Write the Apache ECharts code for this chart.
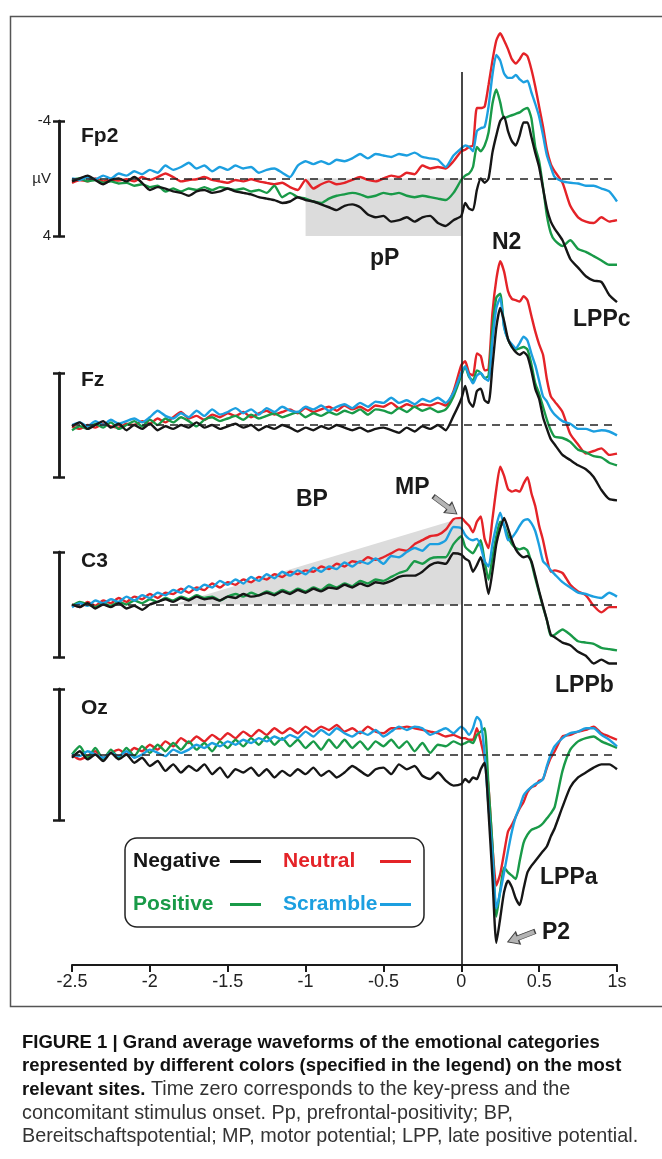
<!DOCTYPE html>
<html><head><meta charset="utf-8">
<script src="https://cdn.jsdelivr.net/npm/echarts@6/dist/echarts.min.js"></script>
<style>html,body{margin:0;padding:0;background:#fff}#c{width:662px;height:1159px}</style>
</head><body><div id="c"></div>
<script>
// ---- time axis (s) ----
const times = [-2.5,-2.45,-2.4,-2.35,-2.3,-2.25,-2.2,-2.15,-2.1,-2.05,
 -2.0,-1.95,-1.9,-1.85,-1.8,-1.75,-1.7,-1.65,-1.6,-1.55,
 -1.5,-1.45,-1.4,-1.35,-1.3,-1.25,-1.2,-1.15,-1.1,-1.05,
 -1.0,-0.95,-0.9,-0.85,-0.8,-0.75,-0.7,-0.65,-0.6,-0.55,
 -0.5,-0.45,-0.4,-0.35,-0.3,-0.25,-0.2,-0.15,-0.1,-0.05,
 0,0.025,0.05,0.075,0.1,0.125,0.15,0.175,0.2,0.225,
 0.25,0.275,0.3,0.325,0.35,0.375,0.4,0.425,0.45,0.475,
 0.5,0.525,0.55,0.575,0.6,
 0.65,0.7,0.75,0.8,0.85,0.9,0.95,1.0];
const categories = ['Negative','Neutral','Positive','Scramble'];
const sites = ['Fp2','Fz','C3','Oz'];

// ---- Fp2 (µV, negative up) ----
const fp2Scramble = [0.0,0.1,-0.1,0.05,-0.2,0.0,-0.35,-0.2,-0.5,-0.3, -0.6,-0.4,-0.9,-0.6,-0.8,-1.1,-0.7,-0.9,-0.5,-0.8, -0.6,-0.9,-0.7,-0.8,-0.4,-0.6,-0.7,-0.4,-0.1,-0.9, -1.2,-1.0,-1.2,-1.0,-1.3,-1.2,-1.4,-1.7,-1.4,-1.7, -1.6,-1.5,-1.7,-1.6,-1.8,-1.5,-1.4,-1.3,-0.8,-1.6,
 -2.1,-2.3,-2.2,-1.9,-3.3,-3.5,-3.6,-5.0,-7.2,-8.6, -8.2,-7.3,-7.0,-7.0,-7.2,-6.9,-6.7,-6.8,-6.0,-5.2, -4.3,-3.0,-1.6,-0.8,-0.1, 0.2,0.3,0.35,0.5,0.5,0.7,0.9,1.6];
const fp2Neutral = [0.3,0.1,0.2,0.0,0.2,0.1,0.15,0.05,0.2,-0.1, 0.1,-0.1,-0.35,-0.1,0.2,0.1,0.05,-0.1,0.1,0.2, 0.3,0.1,0.2,0.05,0.2,0.3,0.4,0.3,0.6,0.8, 0.1,0.7,0.4,0.2,0.4,0.3,0.1,-0.1,0.1,0.2, 0.0,-0.2,-0.1,-0.4,-0.3,-0.9,-0.7,-0.8,-0.7,-1.2,
 -1.9,-2.0,-2.2,-2.3,-4.9,-4.9,-5.0,-6.5,-8.2,-9.6, -10.1,-9.6,-9.0,-8.3,-8.0,-8.3,-8.7,-8.5,-7.6,-6.4, -5.0,-3.6,-2.0,-1.0,-0.5, 0.3,1.9,2.7,3.0,3.1,2.7,3.0,2.9];
const fp2Positive = [0.1,0.0,0.2,0.1,0.3,0.2,0.35,0.3,0.5,0.4, 0.6,0.5,0.9,0.7,0.9,0.7,0.8,0.6,0.8,0.6, 0.7,0.8,0.7,0.9,0.8,1.0,0.5,1.3,1.0,1.3, 1.4,1.6,1.7,1.4,1.2,1.1,1.0,1.1,1.3,1.2, 1.0,1.1,1.0,1.2,1.3,1.2,1.3,1.4,1.5,1.0,
 0.1,-0.2,-0.35,-0.8,-2.2,-1.9,-2.3,-3.2,-5.2,-6.2, -5.3,-4.2,-4.3,-4.4,-4.5,-4.6,-4.8,-4.9,-4.2,-2.2, -1.2,0.6,2.6,3.8,4.3, 4.7,4.3,4.9,5.1,5.4,5.7,6.0,6.0];
const fp2Negative = [0.2,0.0,-0.2,0.1,0.4,0.1,0.0,0.2,-0.1,0.3, 0.8,0.6,0.7,0.9,1.0,1.2,0.9,0.8,1.0,0.9, 0.7,0.9,1.0,1.1,1.3,1.4,1.5,1.7,1.6,1.3, 1.5,1.6,1.8,2.0,2.2,1.9,1.8,2.0,2.5,2.7, 2.6,3.0,2.9,2.7,3.0,2.7,2.6,3.1,3.3,2.9,
 2.6,1.7,2.1,2.2,0.8,0.0,0.3,0.0,-1.8,-3.0, -4.0,-4.3,-3.3,-2.6,-2.3,-3.0,-3.9,-3.9,-2.9,-1.8, -0.8,0.7,2.1,3.0,3.5, 4.3,5.6,6.2,6.8,7.1,7.2,8.1,8.6];

// ---- Fz ----
const fzScramble = [0.0,-0.2,0.1,-0.3,0.0,-0.4,-0.1,-0.3,-0.5,-0.2, -0.6,-1.1,-0.7,-0.5,-0.9,-0.6,-1.1,-0.7,-1.2,-0.8, -1.0,-1.3,-0.9,-1.2,-0.8,-1.3,-1.0,-1.4,-1.1,-1.0, -1.4,-1.2,-1.5,-1.1,-1.4,-1.6,-1.3,-1.7,-1.4,-1.8, -1.7,-2.1,-1.7,-1.9,-1.6,-2.0,-1.8,-2.1,-1.7,-2.5,
 -4.0,-4.5,-3.8,-3.2,-3.8,-4.0,-3.6,-3.4,-6.5,-9.0, -9.8,-7.5,-6.6,-6.2,-5.9,-6.3,-6.8,-6.5,-5.5,-4.6, -3.4,-2.2,-1.8,-1.2,-0.8, -0.3,-0.1,0.3,0.3,0.5,0.4,0.5,0.8];
const fzNeutral = [0.1,0.3,0.0,0.2,-0.1,0.1,0.2,-0.1,0.0,-0.3, -0.1,-0.5,-0.2,-0.6,-1.0,-0.5,-0.7,-0.4,-0.8,-0.6, -0.9,-0.7,-1.0,-0.6,-0.9,-1.1,-0.8,-1.0,-1.2,-0.9, -1.3,-1.0,-1.2,-1.4,-1.1,-1.5,-1.2,-1.4,-1.1,-1.5, -1.4,-1.7,-1.3,-1.6,-1.4,-1.6,-1.5,-1.7,-1.5,-2.6,
 -4.6,-4.9,-4.0,-3.8,-5.5,-5.3,-4.2,-4.3,-8.6,-11.2, -12.6,-11.8,-10.3,-9.7,-9.6,-9.5,-9.9,-9.6,-8.4,-7.2, -6.2,-5.4,-3.5,-2.2,-1.8, -1.0,0.7,1.5,2.2,2.0,1.8,2.3,2.2];
const fzPositive = [0.4,0.1,0.3,-0.1,0.2,-0.2,0.3,0.0,-0.3,0.1, -0.4,0.0,-0.5,-0.2,-0.6,-0.3,0.1,-0.4,-0.6,-0.3, -0.5,-0.7,-0.4,-0.8,-0.5,-0.7,-0.9,-0.6,-0.8,-1.0, -0.6,-0.9,-0.7,-1.0,-0.8,-1.1,-0.9,-1.2,-0.8,-1.2, -1.1,-0.9,-1.3,-1.0,-1.4,-1.1,-1.3,-1.0,-1.2,-2.2,
 -3.8,-4.5,-3.7,-3.4,-4.2,-4.0,-3.6,-3.8,-7.4,-9.8, -10.1,-7.6,-6.6,-6.0,-5.8,-5.9,-6.0,-5.8,-4.7,-3.2, -2.4,-1.4,-0.4,0.4,0.9, 1.0,1.3,1.9,2.1,2.4,2.5,2.9,3.1];
const fzNegative = [0.1,-0.2,0.3,0.0,-0.3,0.2,-0.1,0.4,0.0,0.3, -0.1,0.4,0.1,0.3,0.0,0.2,-0.2,0.2,0.0,0.3, 0.1,-0.1,0.2,0.0,0.4,0.1,0.3,0.0,0.2,0.5, 0.2,0.4,0.1,0.3,0.0,0.2,0.4,0.2,0.5,0.3, 0.2,0.4,0.6,0.2,0.5,0.1,0.3,0.0,0.4,-0.7,
 -2.0,-3.0,-1.8,-1.4,-2.6,-2.8,-1.9,-1.7,-4.5,-7.5, -9.0,-8.0,-6.6,-6.0,-5.6,-5.4,-5.6,-5.3,-4.2,-2.8, -2.0,-0.6,0.3,1.1,1.5, 2.3,2.7,3.1,3.4,4.0,5.0,5.7,5.8];

// ---- C3 ----
const c3Scramble = [0.2,-0.1,0.1,-0.3,-0.1,-0.4,-0.2,-0.6,-0.3,-0.7, -0.5,-0.9,-0.7,-1.1,-0.9,-1.4,-1.1,-1.5,-1.3,-1.8, -1.5,-1.9,-1.6,-2.1,-1.8,-2.3,-2.0,-2.5,-2.2,-2.6, -2.3,-2.8,-2.5,-2.9,-2.7,-3.2,-2.9,-3.3,-3.1,-3.5, -3.1,-3.7,-3.6,-4.0,-4.3,-4.1,-4.6,-4.6,-4.9,-5.9,
 -5.8,-5.3,-5.0,-4.9,-5.0,-4.4,-3.3,-2.9,-4.6,-6.0, -7.0,-6.0,-4.9,-5.1,-5.5,-6.0,-6.4,-6.5,-6.2,-5.6, -4.5,-3.3,-3.0,-2.6,-2.3, -1.7,-1.3,-0.9,-0.8,-0.6,-0.5,-0.9,-0.6];
const c3Neutral = [0.0,0.2,-0.2,0.1,-0.3,-0.1,-0.5,-0.2,-0.6,-0.4, -0.8,-0.5,-0.9,-0.8,-1.2,-0.9,-1.3,-1.1,-1.6,-1.3, -1.7,-1.5,-1.9,-1.7,-2.1,-1.9,-2.3,-2.1,-2.5,-2.3, -2.6,-2.5,-2.9,-2.7,-3.1,-2.9,-3.3,-3.2,-3.6,-3.4, -3.6,-3.9,-4.2,-4.1,-4.6,-4.9,-5.2,-5.3,-5.7,-6.5,
 -6.6,-6.3,-6.0,-5.5,-6.3,-6.7,-5.0,-4.3,-6.5,-8.8, -10.5,-9.8,-8.8,-8.6,-8.7,-8.6,-9.2,-9.7,-8.5,-7.5, -6.0,-4.9,-3.5,-2.5,-2.6, -2.4,-1.5,-1.0,-0.7,0.1,0.6,0.2,0.2];
const c3Positive = [0.1,-0.2,0.0,0.2,-0.1,0.1,-0.2,0.0,-0.3,-0.1, -0.4,-0.2,-0.5,-0.3,-0.6,-0.4,-0.7,-0.5,-0.6,-0.3, -0.6,-0.8,-0.6,-0.9,-0.7,-1.0,-0.8,-1.1,-0.9,-1.2, -1.0,-1.3,-1.1,-1.5,-1.3,-1.6,-1.4,-1.8,-1.6,-1.9, -1.8,-2.1,-2.4,-2.6,-3.3,-3.1,-3.5,-3.6,-3.6,-4.6,
 -5.2,-4.4,-4.1,-3.9,-4.4,-4.9,-3.3,-1.9,-3.6,-5.2, -6.3,-6.0,-5.2,-4.6,-4.3,-4.2,-4.3,-4.1,-3.2,-2.0, -0.9,0.2,1.2,2.4,2.3, 1.9,2.3,2.8,2.9,3.0,3.3,3.4,3.5];
const c3Negative = [0.0,0.2,-0.1,0.3,0.0,0.2,-0.1,0.3,0.1,0.4, 0.0,-0.2,-0.4,-0.2,-0.5,-0.3,-0.6,-0.4,-0.5,-0.3, -0.6,-0.5,-0.8,-0.6,-0.7,-0.9,-0.7,-1.0,-0.8,-1.1, -0.9,-1.2,-1.0,-1.3,-1.2,-1.5,-1.3,-1.6,-1.4,-1.7, -1.6,-1.8,-2.1,-2.2,-2.2,-2.5,-3.0,-3.2,-3.1,-3.9,
 -3.8,-3.5,-3.3,-2.5,-3.0,-3.6,-2.4,-0.8,-2.5,-4.6, -5.8,-6.6,-5.8,-4.9,-4.2,-3.8,-3.6,-3.7,-3.3,-2.2, -1.0,0.1,1.2,2.3,2.5, 2.9,3.1,3.6,3.9,4.5,4.2,4.5,4.5];

// ---- Oz ----
const ozScramble = [0.0,0.1,-0.2,0.0,0.2,-0.1,0.1,-0.2,0.2,0.0, -0.3,-0.1,0.1,-0.3,-0.1,-0.3,-0.6,-0.4,-0.7,-0.5, -0.8,-0.6,-0.9,-0.7,-1.0,-0.8,-1.1,-0.9,-1.2,-1.0, -1.4,-1.1,-1.5,-1.2,-1.6,-1.3,-1.1,-1.4,-1.2,-1.5, -1.1,-1.4,-1.7,-1.5,-1.7,-1.6,-1.2,-1.4,-1.6,-1.3,
 -1.7,-1.5,-1.2,-1.6,-2.3,-2.0,0.0,3.2,6.0,9.4, 8.4,7.2,5.9,4.7,3.8,3.2,2.5,2.2,2.0,1.8, 1.7,1.5,0.7,0.0,-0.5, -1.0,-1.3,-1.4,-1.6,-1.6,-1.2,-0.9,-0.5];
const ozNeutral = [0.0,0.3,0.1,-0.2,0.2,-0.1,-0.3,0.0,-0.4,-0.2, -0.6,-0.3,-0.8,-0.5,-1.0,-0.7,-1.1,-0.8,-1.2,-0.9, -1.3,-1.0,-1.4,-1.1,-1.5,-1.2,-1.6,-1.3,-1.6,-1.3, -1.7,-1.4,-1.7,-1.5,-1.8,-1.4,-1.6,-1.3,-1.7,-1.4, -1.3,-1.6,-1.6,-1.7,-1.6,-1.5,-1.4,-1.3,-1.1,-1.2,
 -1.0,-1.0,-0.9,-0.9,-1.6,-0.8,0.3,2.0,5.6,8.0, 7.3,6.0,4.7,4.3,3.8,3.3,2.9,2.3,2.0,1.9, 1.6,1.5,0.8,0.2,-0.2, -1.1,-1.2,-1.4,-1.5,-1.7,-1.3,-1.1,-0.9];
const ozPositive = [0.0,-0.5,0.2,-0.4,0.3,-0.3,0.2,-0.4,0.1,-0.5, -0.1,-0.6,-0.2,-0.7,-0.3,-0.8,-0.3,-0.7,-0.2,-0.8, -0.4,-0.9,-0.5,-1.0,-0.6,-1.1,-0.6,-1.0,-0.5,-0.9, -0.4,-0.8,-0.3,-0.9,-0.4,-0.9,-0.4,-0.8,-0.3,-0.8, -0.5,-0.9,-0.4,-0.8,-0.2,-0.7,-0.1,-0.6,-0.5,-0.8,
 -0.6,-0.7,-0.8,-0.7,-1.2,-1.4,-1.6,2.0,5.5,9.9, 8.3,6.9,7.2,7.4,7.6,6.5,5.4,4.9,4.6,4.5, 4.4,4.2,3.9,3.6,3.2, 1.0,-0.3,-0.8,-1.0,-1.1,-0.8,-0.6,-0.4];
const ozNegative = [0.2,-0.2,0.3,0.0,0.4,-0.1,0.3,0.0,0.5,0.2, 0.7,0.4,1.0,0.6,1.1,0.7,1.0,0.6,1.2,0.8, 1.4,0.9,1.1,0.8,1.3,0.9,1.4,1.0,1.3,0.9, 1.2,0.8,1.3,1.0,1.4,1.1,0.7,1.0,1.3,0.9, 0.8,1.2,0.6,0.9,0.7,1.3,1.5,1.1,1.6,1.9,
 1.8,1.5,1.7,1.4,1.5,0.9,0.5,3.5,7.5,11.5, 10.0,8.4,7.7,8.1,8.8,9.2,8.2,7.2,6.8,6.5, 6.2,5.9,5.6,5.0,4.5, 3.2,2.0,1.4,1.1,0.8,0.6,0.6,0.9];

// ---- shaded components (time s, µV) ----
const pPArea = [[-1.0, 4], [0, 4]];
const bpArea = [[-1.85, 0], [0, -6.6]];

// ---- annotation arrows: [time s, µV, rotation deg] ----
const mpArrow = [-0.103, -7.56, -37];
const p2Arrow = [0.385, 11.13, 201];

const siteData = {
  Fp2: {Negative: fp2Negative, Neutral: fp2Neutral, Positive: fp2Positive, Scramble: fp2Scramble},
  Fz:  {Negative: fzNegative,  Neutral: fzNeutral,  Positive: fzPositive,  Scramble: fzScramble},
  C3:  {Negative: c3Negative,  Neutral: c3Neutral,  Positive: c3Positive,  Scramble: c3Scramble},
  Oz:  {Negative: ozNegative,  Neutral: ozNeutral,  Positive: ozPositive,  Scramble: ozScramble}
};

// ---- layout / style ----
const FONT = 'Liberation Sans, Arial, Helvetica, sans-serif';
const colors = {Negative:'#161616', Neutral:'#e42328', Positive:'#199a48', Scramble:'#1c9fe0'};
const panelBox = [ {top:121, height:115}, {top:373, height:104}, {top:552, height:105}, {top:689, height:131} ];
const plotLeft = 72, plotWidth = 545;
const drawOrder = ['Neutral','Positive','Scramble','Negative'];
const arrowPath = 'path://M0,3.5L15,3.5L15,0L24,5.5L15,11L15,7.5L0,7.5Z';

const grid = [], xAxis = [], yAxis = [], series = [];
sites.forEach((s, i) => {
  grid.push({left: plotLeft, width: plotWidth, top: panelBox[i].top, height: panelBox[i].height, outerBoundsMode: 'none', containLabel: false});
  xAxis.push({gridIndex: i, type: 'value', min: -2.5, max: 1, show: false});
  const base = {gridIndex: i, type: 'value', min: -4, max: 4, inverse: true, position: 'left', offset: 13,
    splitLine: {show: false},
    axisLine: {show: true, onZero: false, lineStyle: {color: '#1a1a1a', width: 2.5}}};
  yAxis.push(Object.assign({}, base, {
    axisTick: {show: true, inside: false, length: 6, customValues: [-4, 4], lineStyle: {color: '#1a1a1a', width: 2.5}},
    axisLabel: {show: i === 0, customValues: [-4, 0, 4], margin: 8, fontSize: 15, color: '#222', fontFamily: FONT,
      formatter: v => (v === 0 ? 'µV' : String(v))}
  }));
  yAxis.push(Object.assign({}, base, {
    axisTick: {show: true, inside: true, length: 6, customValues: [-4, 4], lineStyle: {color: '#1a1a1a', width: 2.5}},
    axisLabel: {show: false}
  }));
});
// frame grid carrying the time axis and the onset line
grid.push({left: plotLeft, width: plotWidth, top: 72, height: 893, outerBoundsMode: 'none', containLabel: false});
xAxis.push({gridIndex: 4, type: 'value', min: -2.5, max: 1, interval: 0.5, position: 'bottom',
  axisLine: {show: true, onZero: false, lineStyle: {color: '#1a1a1a', width: 2}},
  axisTick: {show: true, inside: false, length: 7, lineStyle: {color: '#1a1a1a', width: 2}},
  axisLabel: {show: true, margin: 8, fontSize: 18, color: '#222', fontFamily: FONT, showMinLabel: true, showMaxLabel: true,
    formatter: v => (v === 1 ? '1s' : String(v))},
  splitLine: {show: false}});
yAxis.push({gridIndex: 4, type: 'value', min: 0, max: 1, show: false});

// shaded regions
series.push({type: 'line', name: 'pP area', xAxisIndex: 0, yAxisIndex: 0, data: pPArea, clip: false, silent: true,
  showSymbol: false, symbol: 'none', lineStyle: {width: 0}, areaStyle: {color: '#dcdcdc', opacity: 1}, z: 1});
series.push({type: 'line', name: 'BP area', xAxisIndex: 2, yAxisIndex: 4, data: bpArea, clip: false, silent: true,
  showSymbol: false, symbol: 'none', lineStyle: {width: 0}, areaStyle: {color: '#dcdcdc', opacity: 1}, z: 1});

sites.forEach((s, i) => {
  drawOrder.forEach((cat, j) => {
    const sr = {
      type: 'line', name: cat, xAxisIndex: i, yAxisIndex: 2 * i,
      data: times.map((t, k) => [t, siteData[s][cat][k]]),
      clip: false, showSymbol: false, symbol: 'none', smooth: 0.2,
      color: colors[cat], lineStyle: {color: colors[cat], width: 2.4}, z: 3
    };
    if (j === 0) {
      sr.markLine = {silent: true, symbol: 'none', label: {show: false},
        lineStyle: {color: '#222', width: 1.5, type: [8, 6]}, data: [{yAxis: 0}]};
    }
    series.push(sr);
  });
});
// arrows (MP on C3, P2 on Oz)
[[2, mpArrow], [3, p2Arrow]].forEach(([pi, a]) => {
  series.push({type: 'scatter', name: 'arrow', xAxisIndex: pi, yAxisIndex: 2 * pi, clip: false, silent: true,
    symbol: arrowPath, symbolSize: [29, 13],
    data: [{value: [a[0], a[1]], symbolRotate: a[2]}],
    itemStyle: {color: '#b4b4b4', borderColor: '#444', borderWidth: 1, opacity: 1}, z: 5});
});
// onset line
series.push({type: 'line', name: 'onset', xAxisIndex: 4, yAxisIndex: 8, data: [], silent: true,
  markLine: {silent: true, symbol: 'none', label: {show: false}, lineStyle: {color: '#1a1a1a', width: 1.6, type: 'solid'}, data: [{xAxis: 0}]}, z: 4});

const boldT = (text, left, top, size) => ({text, left, top, padding: 0,
  textStyle: {fontSize: size, fontWeight: 'bold', color: '#1a1a1a', fontFamily: FONT}});

const caption = '{b|FIGURE 1 | Grand average waveforms of the emotional categories}\n' +
  '{b|represented by different colors (specified in the legend) on the most}\n' +
  '{b|relevant sites.}{r| Time zero corresponds to the key-press and the}\n' +
  '{r|concomitant stimulus onset. Pp, prefrontal-positivity; BP,}\n' +
  '{r|Bereitschaftspotential; MP, motor potential; LPP, late positive potential.}';

const legendKey = {Negative: 'neg', Neutral: 'neu', Positive: 'pos', Scramble: 'scr'};
const legRich = {};
categories.forEach(c => { legRich[legendKey[c]] = {color: colors[c], width: 92, align: 'left', fontSize: 21, fontWeight: 'bold', lineHeight: 21, fontFamily: FONT}; });

const option = {
  animation: false,
  backgroundColor: '#fff',
  textStyle: {fontFamily: FONT},
  grid, xAxis, yAxis, series,
  legend: {
    left: 125, top: 838, width: 290, orient: 'horizontal', align: 'right',
    icon: 'rect', itemWidth: 31, itemHeight: 3, itemGap: 22,
    padding: [13, 13, 12, 8], borderColor: '#222', borderWidth: 1.5, borderRadius: 12,
    selectedMode: false,
    data: categories,
    formatter: name => '{' + legendKey[name] + '|' + name + '}',
    textStyle: {rich: legRich}
  },
  title: [
    boldT('Fp2', 81, 126, 21), boldT('Fz', 81, 370, 21), boldT('C3', 81, 551, 21), boldT('Oz', 81, 698, 21),
    boldT('pP', 370, 247, 23), boldT('N2', 492, 231, 23), boldT('LPPc', 573, 308, 23),
    boldT('MP', 395, 476, 23), boldT('BP', 296, 488, 23), boldT('LPPb', 555, 674, 23),
    boldT('LPPa', 540, 866, 23), boldT('P2', 542, 921, 23),
    {left: 22, top: 1031, padding: 0, text: caption, textStyle: {fontFamily: FONT, fontWeight: 'normal', rich: {
      b: {fontSize: 18.5, fontWeight: 'bold', color: '#111', lineHeight: 23.5, fontFamily: FONT},
      r: {fontSize: 19.8, fontWeight: 'normal', color: '#333', lineHeight: 23.5, fontFamily: FONT}}}}
  ],
  graphic: [{type: 'rect', left: 8, top: 14, shape: {width: 700, height: 990}, style: {fill: 'none', stroke: '#555', lineWidth: 1.5}, z: -10, silent: true}]
};

const chart = echarts.init(document.getElementById('c'), null, {renderer: 'canvas'});
chart.setOption(option);
</script></body></html>
